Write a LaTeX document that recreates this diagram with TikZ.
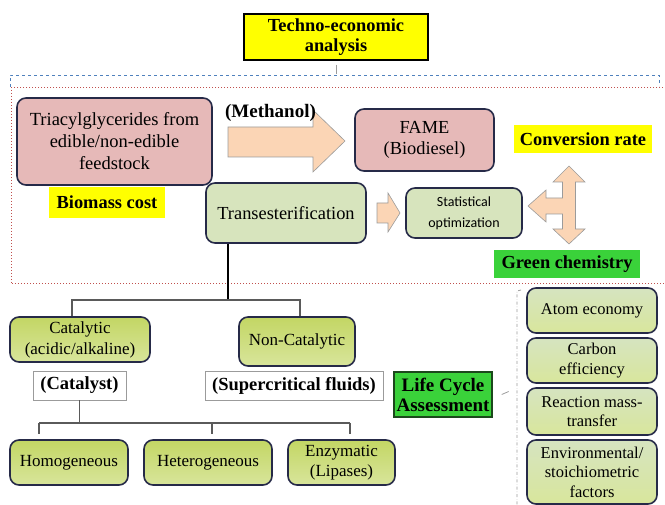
\documentclass[tikz,border=0pt]{standalone}
\usepackage{fontspec}
\setmainfont{Liberation Serif}
\newfontfamily\statfont{Carlito}
\definecolor{bxline}{RGB}{38,42,72}
\definecolor{bxpink}{RGB}{230,185,184}
\definecolor{bxsage}{RGB}{215,228,189}
\definecolor{bxlimetop}{RGB}{195,214,100}
\definecolor{bxlimebot}{RGB}{216,229,155}
\definecolor{bxminttop}{RGB}{214,228,192}
\definecolor{bxmintbot}{RGB}{216,230,156}
\definecolor{tagyellow}{RGB}{255,255,0}
\definecolor{taggreen}{RGB}{58,210,58}
\definecolor{lcaedge}{RGB}{28,72,28}
\definecolor{arrpeach}{RGB}{251,213,181}
\definecolor{arredge}{RGB}{155,155,155}
\definecolor{dashblue}{RGB}{79,129,189}
\definecolor{dotred}{RGB}{192,80,77}
\definecolor{forkgray}{RGB}{90,90,90}

\begin{document}
\begin{tikzpicture}[x=1pt,y=-1pt,
  rbox/.style={draw=bxline,line width=1.6pt,rounded corners=9pt,align=center,inner sep=0pt,
    font=\fontsize{18.4}{21.5}\selectfont},
  labeltag/.style={align=center,inner sep=0pt,font=\bfseries\fontsize{18.4}{20}\selectfont},
  limebox/.style={rbox,top color=bxlimetop,bottom color=bxlimebot,font=\fontsize{17}{21}\selectfont},
  mintbox/.style={rbox,top color=bxminttop,bottom color=bxmintbot,minimum width=130pt,
    font=\fontsize{16.5}{19.5}\selectfont},
  plainbox/.style={draw=arredge,fill=white,line width=0.8pt,inner sep=0pt,
    font=\bfseries\fontsize{18.5}{20}\selectfont},
  blockarrow/.style={fill=arrpeach,draw=arredge,line width=0.6pt},
  forkline/.style={draw=forkgray,line width=1.1pt}]
  \useasboundingbox (0,0) rectangle (665,505);

  \draw[dashblue,dashed,line width=0.8pt] (10,87) -- (10,75) -- (659,75) -- (659,86);
  \draw[dotred,dotted,line width=1pt] (666,88) -- (11,88) -- (11,284) -- (666,284);
  \draw[arredge,dash dot,line width=0.8pt] (521,290) -- (517,291) -- (517,505);

  \node[labeltag,fill=tagyellow,draw=black,line width=1.2pt,minimum width=184pt,minimum height=46pt]
    (techno) at (336,37) {Techno-economic\\analysis};
  \node[rbox,fill=bxpink,minimum width=195pt,minimum height=87pt,font=\fontsize{18.5}{22}\selectfont]
    (feed) at (114.5,141.5) {Triacylglycerides from\\edible/non-edible\\feedstock};
  \node[rbox,fill=bxpink,minimum width=139pt,minimum height=62pt] (fame) at (424.5,140) {FAME\\(Biodiesel)};
  \node[labeltag,fill=tagyellow,minimum width=138pt,minimum height=28pt] (conv) at (583,139) {Conversion rate};
  \node[labeltag,fill=tagyellow,minimum width=116pt,minimum height=31pt] (biomass) at (107,202.5) {Biomass cost};
  \node[rbox,fill=bxsage,minimum width=160pt,minimum height=60pt] (trans) at (286,213) {Transesterification};
  \node[rbox,fill=bxsage,minimum width=116pt,minimum height=50pt,font={\statfont\fontsize{14}{21}\selectfont}]
    (stat) at (464,213) {Statistical\\optimization};
  \node[labeltag,fill=taggreen,minimum width=146pt,minimum height=28pt] (green) at (567,264) {Green chemistry};

  \coordinate (tetick) at (336,74);
  \draw[arredge,line width=0.8pt,shorten <=4pt] (techno.south) -- (tetick);

  \draw[blockarrow] (228,127) -- (313,127) -- (313,110) -- (345,141) -- (313,172) -- (313,157) -- (228,157) -- cycle;
  \node[labeltag,font=\bfseries\fontsize{19}{20}\selectfont] (methanol) at (270.5,113) {(Methanol)};
  \draw[blockarrow] (377,203) -- (388,203) -- (388,193) -- (400,213) -- (388,232) -- (388,223) -- (377,223) -- cycle;
  \draw[blockarrow] (569,166) -- (585,182) -- (575.5,182) -- (575.5,229) -- (585,229) -- (569,244)
    -- (553,229) -- (562.5,229) -- (562.5,214) -- (546,214) -- (546,222) -- (528,206) -- (546,190)
    -- (546,198) -- (562.5,198) -- (562.5,182) -- (553,182) -- cycle;

  \node[limebox,minimum width=140pt,minimum height=45pt] (cat) at (80,339.5) {Catalytic\\(acidic/alkaline)};
  \node[limebox,minimum width=116pt,minimum height=49pt] (noncat) at (297,341.5) {Non-Catalytic};
  \node[plainbox,minimum width=93pt,minimum height=29pt] (catalyst) at (79.5,385.5) {(Catalyst)};
  \node[plainbox,minimum width=178pt,minimum height=29pt] (supercrit) at (294,385.5) {(Supercritical fluids)};
  \node[limebox,minimum width=118pt,minimum height=45pt] (homo) at (69,462.5) {Homogeneous};
  \node[limebox,minimum width=128pt,minimum height=45pt] (hetero) at (208,462.5) {Heterogeneous};
  \node[limebox,minimum width=107pt,minimum height=45pt,font=\fontsize{17}{20}\selectfont]
    (enzy) at (341.5,462.5) {Enzymatic\\(Lipases)};

  \coordinate (fork) at (228,300);
  \coordinate (forkl) at (72,300);
  \coordinate (forkr) at (300,300);
  \draw[line width=1.1pt] (trans.south -| fork) -- (fork);
  \draw[forkline] (cat.north -| forkl) -- (forkl) -- (forkr) -- (noncat.north -| forkr);
  \coordinate (split) at (79.5,423);
  \coordinate (dropa) at (39,423);
  \coordinate (dropb) at (212,423);
  \coordinate (dropc) at (350,423);
  \draw[forkline] (catalyst.south) -- (split);
  \draw[forkline] (dropa) -- (dropc);
  \foreach \d/\n in {dropa/homo,dropb/hetero,dropc/enzy}
    \draw[forkline,shorten >=5pt] (\d) -- (\n.north -| \d);

  \node[labeltag,fill=taggreen,draw=lcaedge,line width=1.4pt,minimum width=98pt,minimum height=45pt,
    font=\bfseries\fontsize{19}{20}\selectfont] (lca) at (443,394.5) {Life Cycle\\Assessment};
  \draw[arredge,line width=0.8pt] ([xshift=9pt]lca.east) -- ++(7,-3);

  \node[mintbox,minimum height=45pt] (atom) at (592,310.5) {Atom economy};
  \node[mintbox,minimum height=45pt] (carbon) at (592,360.5) {Carbon\\efficiency};
  \node[mintbox,minimum height=47pt] (reaction) at (592,411.5) {Reaction mass-\\transfer};
  \node[mintbox,minimum height=64pt] (envf) at (592,472) {Environmental/\\stoichiometric\\factors};
\end{tikzpicture}
\end{document}
